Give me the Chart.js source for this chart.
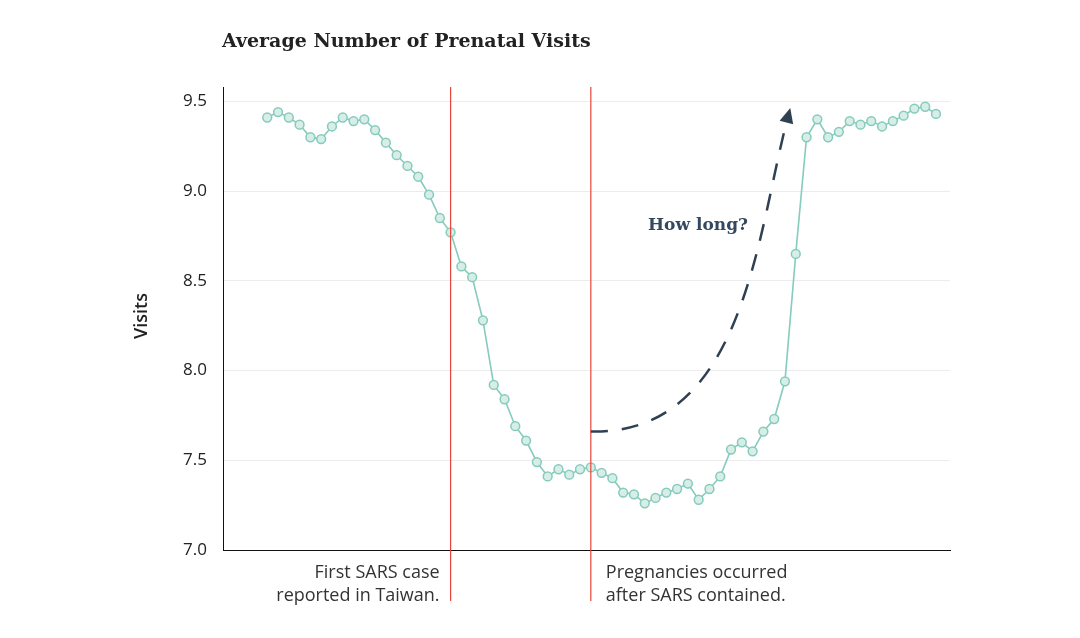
<!DOCTYPE html>
<html>
<head>
<meta charset="utf-8">
<script src="https://cdn.jsdelivr.net/npm/chart.js@4/dist/chart.umd.min.js"></script>
<style>
  html, body { margin: 0; padding: 0; background: #fff; }
  #wrap { width: 1080px; height: 638px; position: relative; }
</style>
</head>
<body>
<div id="wrap"><canvas id="chart"></canvas></div>
<script>
// monthly averages, index 0..62
const visits = [
  9.41, 9.44, 9.41, 9.37, 9.30, 9.29, 9.36, 9.41, 9.39, 9.40,
  9.34, 9.27, 9.20, 9.14, 9.08, 8.98, 8.85, 8.77, 8.58, 8.52,
  8.28, 7.92, 7.84, 7.69, 7.61, 7.49, 7.41, 7.45, 7.42, 7.45,
  7.46, 7.43, 7.40, 7.32, 7.31, 7.26, 7.29, 7.32, 7.34, 7.37,
  7.28, 7.34, 7.41, 7.56, 7.60, 7.55, 7.66, 7.73, 7.94, 8.65,
  9.30, 9.40, 9.30, 9.33, 9.39, 9.37, 9.39, 9.36, 9.39, 9.42,
  9.46, 9.47, 9.43
]
const yTicks = [7.0, 7.5, 8.0, 8.5, 9.0, 9.5]
const eventIdx = [17, 30]
const eventLabels = [
  ['First SARS case', 'reported in Taiwan.'],
  ['Pregnancies occurred', 'after SARS contained.'],
]
// hypothetical recovery curve (x index, visits): start, control1, control2, end
const arrowPath = [[30, 7.66], [44.3, 7.64], [45.4, 8.77], [48.3, 9.42]]

const textColor = '#222222'
const tealLine = '#86cbbc'
const tealFill = '#d6eee7'
const redLine = '#e8463a'
const navy = '#2f4052'
const sans = '"Open Sans"'

const extras = {
  id: 'extras',
  afterDraw(chart) {
    const { ctx, chartArea, scales: { x, y } } = chart
    ctx.save()

    // title
    ctx.fillStyle = textColor
    ctx.font = 'bold 19px "DejaVu Serif"'
    ctx.textAlign = 'left'
    ctx.textBaseline = 'middle'
    ctx.fillText('Average Number of Prenatal Visits', 222, 42)

    // y title
    ctx.save()
    ctx.translate(142, 316)
    ctx.rotate(-Math.PI / 2)
    ctx.textAlign = 'center'
    ctx.font = '600 18px ' + sans
    ctx.fillText('Visits', 0, 0)
    ctx.restore()

    // event lines
    ctx.strokeStyle = redLine
    ctx.lineWidth = 1.2
    eventIdx.forEach((idx) => {
      const px = x.getPixelForValue(idx)
      ctx.beginPath()
      ctx.moveTo(px, chartArea.top)
      ctx.lineTo(px, chartArea.bottom + 51)
      ctx.stroke()
    })

    // event labels
    ctx.fillStyle = '#333'
    ctx.font = '18px ' + sans
    ctx.textBaseline = 'middle'
    const x0 = x.getPixelForValue(eventIdx[0])
    const x1 = x.getPixelForValue(eventIdx[1])
    ctx.textAlign = 'right'
    eventLabels[0].forEach((t, i) => ctx.fillText(t, x0 - 11, 573 + i * 23))
    ctx.textAlign = 'left'
    eventLabels[1].forEach((t, i) => ctx.fillText(t, x1 + 15, 573 + i * 23))

    // dashed arrow
    const p = arrowPath.map(([a, b]) => [x.getPixelForValue(a), y.getPixelForValue(b)])
    ctx.strokeStyle = navy
    ctx.lineWidth = 2.5
    ctx.setLineDash([17, 14])
    ctx.beginPath()
    ctx.moveTo(p[0][0], p[0][1])
    ctx.bezierCurveTo(p[1][0], p[1][1], p[2][0], p[2][1], p[3][0], p[3][1])
    ctx.stroke()
    ctx.setLineDash([])

    // arrow head
    const ang = Math.atan2(p[3][1] - p[2][1], p[3][0] - p[2][0])
    const tipX = p[3][0] + Math.cos(ang) * 8
    const tipY = p[3][1] + Math.sin(ang) * 8
    ctx.fillStyle = navy
    ctx.beginPath()
    ctx.moveTo(tipX, tipY)
    ctx.lineTo(tipX - 15 * Math.cos(ang) + 7 * Math.sin(ang), tipY - 15 * Math.sin(ang) - 7 * Math.cos(ang))
    ctx.lineTo(tipX - 15 * Math.cos(ang) - 7 * Math.sin(ang), tipY - 15 * Math.sin(ang) + 7 * Math.cos(ang))
    ctx.closePath()
    ctx.fill()

    ctx.fillStyle = '#34495e'
    ctx.font = 'bold 17px "DejaVu Serif"'
    ctx.textAlign = 'right'
    ctx.fillText('How long?', 748, 226)

    ctx.restore()
  },
}

const config = {
  type: 'line',
  data: {
    datasets: [
      {
        data: visits.map((v, i) => ({ x: i, y: v })),
        borderColor: tealLine,
        borderWidth: 1.6,
        backgroundColor: tealFill,
        pointBackgroundColor: tealFill,
        pointBorderColor: tealLine,
        pointBorderWidth: 1.5,
        pointRadius: 4.4,
        tension: 0,
        fill: false,
      },
    ],
  },
  options: {
    responsive: true,
    maintainAspectRatio: false,
    animation: false,
    layout: {
      padding: { left: 0, right: 130, top: 87, bottom: 88 },
    },
    scales: {
      x: {
        type: 'linear',
        min: -4.1,
        max: 63.3,
        grid: { display: false },
        ticks: { display: false },
        border: { display: true, color: '#111', width: 1 },
        afterFit: (scale) => { scale.height = 0 },
      },
      y: {
        min: 7,
        max: 9.58,
        afterBuildTicks: (scale) => {
          scale.ticks = yTicks.map((v) => ({ value: v }))
        },
        afterFit: (scale) => { scale.width = 223 },
        grid: { color: '#ececec', lineWidth: 1, drawTicks: false },
        border: { display: true, color: '#111', width: 1 },
        ticks: {
          color: textColor,
          padding: 16,
          font: { family: 'Open Sans', size: 17 },
          callback: (v) => Number(v).toFixed(1),
        },
      },
    },
    plugins: {
      legend: { display: false },
      tooltip: { enabled: false },
    },
  },
  plugins: [extras],
}

new Chart(document.getElementById('chart'), config)
</script>
</body>
</html>
